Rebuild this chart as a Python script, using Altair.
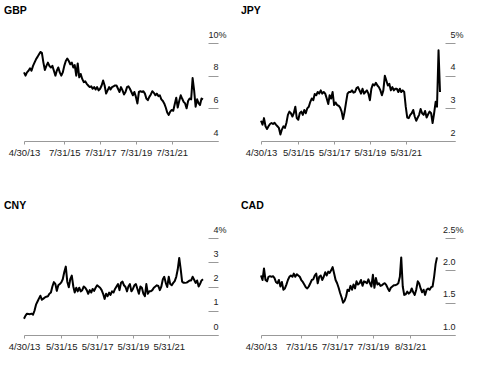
import altair as alt
import pandas as pd

FONT = "Liberation Sans"

gbp_values = [
    8.2, 8.0, 8.2, 8.3, 8.45, 8.3, 8.6, 8.8, 9.0, 9.15, 9.3, 9.45, 9.4, 8.8, 8.35, 8.6,
    8.8, 8.6, 8.5, 8.6, 8.3, 8.0, 8.3, 8.5, 8.2, 8.0, 8.2, 8.6, 8.9, 9.05, 8.9, 8.7,
    8.8, 8.5, 8.65, 8.0, 8.75, 7.9, 8.1, 7.8, 7.6, 7.65, 7.5, 7.4, 7.3, 7.35, 7.2, 7.3,
    7.15, 7.3, 7.1, 7.2, 7.4, 7.7, 7.4, 6.9, 7.1, 7.3, 7.15, 7.3, 7.35, 7.4, 7.4, 7.2,
    7.0, 7.3, 7.1, 6.85, 7.0, 7.3, 7.35, 7.2, 7.0, 6.8, 7.0, 6.7, 6.3, 7.0, 7.05, 7.0,
    7.05, 6.9, 6.6, 6.5, 6.7, 6.85, 7.05, 6.95, 6.8, 6.9, 6.75, 6.8, 6.55, 6.45, 6.3, 6.05,
    5.75, 5.6, 5.8, 5.9, 5.85, 6.25, 6.65, 6.05, 6.45, 6.8, 6.6, 6.4, 6.3, 6.0, 6.45, 6.6,
    6.55, 7.85, 7.1, 6.1, 6.55, 6.3, 6.2, 6.6, 6.55,
]

jpy_values = [
    2.62, 2.5, 2.7, 2.45, 2.37, 2.45, 2.52, 2.55, 2.52, 2.56, 2.5, 2.45, 2.4, 2.2, 2.35, 2.45,
    2.4, 2.55, 2.8, 2.9, 2.85, 2.75, 2.85, 3.05, 2.7, 2.65, 2.85, 2.9, 2.8, 2.95, 2.85, 3.0,
    3.05, 3.2, 3.3, 3.25, 3.44, 3.4, 3.5, 3.45, 3.55, 3.45, 3.5, 3.45, 3.3, 3.13, 3.4, 3.3,
    3.5, 3.1, 3.18, 3.1, 3.08, 3.02, 2.9, 2.67, 2.9, 3.2, 3.45, 3.5, 3.5, 3.55, 3.48, 3.5,
    3.62, 3.65, 3.55, 3.45, 3.6, 3.45, 3.5, 3.55, 3.45, 3.25, 3.6, 3.74, 3.7, 3.78, 3.7, 3.65,
    3.55, 3.4, 3.55, 4.0, 3.85, 3.7, 3.75, 3.55, 3.65, 3.55, 3.6, 3.6, 3.5, 3.6, 3.5, 3.55,
    3.5, 3.05, 2.72, 2.7, 2.8, 2.85, 2.95, 2.75, 2.62, 2.72, 2.8, 2.98, 2.85, 2.8, 2.92, 2.72,
    2.82, 2.9, 2.85, 2.55, 2.85, 3.2, 3.05, 4.78, 3.5,
]

cny_values = [
    0.67, 0.8, 0.88, 0.87, 0.86, 0.88, 0.84, 1.0, 1.25, 1.38, 1.5, 1.62, 1.45, 1.5, 1.55, 1.58,
    1.6, 1.7, 1.75, 2.0, 2.18, 2.1, 1.82, 2.05, 2.1, 2.17, 2.3, 2.6, 2.82, 2.2, 1.97, 2.3,
    2.45, 2.0, 1.75, 1.95, 1.8, 1.95, 1.8, 1.85, 2.0, 1.95, 1.85, 1.7, 1.85, 1.75, 1.9, 1.82,
    1.95, 2.05, 2.0, 1.95, 1.85, 1.7, 1.49, 1.7, 1.6, 1.75, 1.65, 1.8, 1.75, 1.9, 2.0, 2.1,
    1.85, 2.15, 2.2, 2.05, 1.98, 1.8, 2.0, 2.1, 1.8, 1.9, 2.05, 2.1, 1.9, 1.7, 2.0, 1.95,
    1.7, 1.6, 2.1, 1.7, 1.8, 1.8, 1.85, 1.95, 2.0, 2.05, 2.02, 1.85, 2.0, 2.3, 2.4, 2.15,
    1.98, 2.4, 2.1, 2.05, 2.15, 2.22, 2.4, 2.7, 3.18, 2.7, 2.2, 2.15, 2.15, 2.16, 2.2, 2.25,
    2.25, 2.4, 2.28, 2.15, 2.25, 2.0, 2.1, 2.25, 2.3,
]

cad_values = [
    1.92, 1.85, 2.03, 1.85, 1.83, 1.9, 1.91, 1.9, 1.91, 1.88, 1.82, 1.8, 1.85, 1.75, 1.82, 1.7,
    1.72, 1.78, 1.85, 1.9, 1.92, 1.9, 1.95, 1.9, 1.94, 1.92, 1.9, 1.85, 1.82, 1.78, 1.74, 1.72,
    1.75, 1.8, 1.85, 1.86, 1.92, 1.95, 1.8, 1.9, 1.92, 1.85, 1.9, 1.97, 1.92, 1.98, 1.96, 2.0,
    2.05, 1.95, 1.85, 1.8, 1.73, 1.65, 1.58, 1.5, 1.53, 1.6, 1.7, 1.68, 1.76, 1.7, 1.78, 1.72,
    1.83, 1.78, 1.8, 1.85, 1.76, 1.83, 1.82, 1.8, 1.86, 1.8, 1.75, 1.93, 1.73, 1.88, 1.78, 1.8,
    1.76, 1.77, 1.79, 1.8, 1.77, 1.72, 1.68, 1.73, 1.75, 1.77, 1.77, 1.78, 1.8, 1.9, 2.2, 1.75,
    1.62, 1.63, 1.67, 1.64, 1.66, 1.72, 1.66, 1.62, 1.7, 1.83, 1.8, 1.72, 1.66, 1.7, 1.62, 1.7,
    1.72, 1.7, 1.74, 1.75, 1.9, 2.1, 2.2,
]

gbp_xticks = ["2013-04-30", "2015-07-31", "2017-07-31", "2019-07-31", "2021-07-31"]
jpy_xticks = ["2013-04-30", "2015-05-31", "2017-05-31", "2019-05-31", "2021-05-31"]
cny_xticks = ["2013-04-30", "2015-05-31", "2017-05-31", "2019-05-31", "2021-05-31"]
cad_xticks = ["2013-04-30", "2015-07-31", "2017-07-31", "2019-07-31", "2021-08-31"]

x_start = "2013-04-30"
x_end = "2024-03-01"


def dt(s):
    y, m, d = (int(p) for p in s.split("-"))
    return alt.DateTime(year=y, month=m, date=d)


def panel(name, values, lo, hi, yticks, xticks, yfmt, h):
    dates = pd.date_range(x_start, periods=len(values), freq=pd.offsets.MonthEnd())
    df = pd.DataFrame({"date": dates, "value": values})
    xaxis = alt.Axis(
        values=[dt(s) for s in xticks], format="%-m/%-d/%y", grid=False, title=None,
        domainColor="#999", domainWidth=1, tickColor="#999", tickSize=3,
        labelPadding=3, labelFontSize=9.5, labelFont=FONT, labelColor="#222",
        labelFlush=False, labelOverlap=False,
    )
    yaxis = alt.Axis(
        orient="right", values=yticks, format=yfmt, domain=False, grid=False, title=None,
        offset=-10, tickSize=10, tickColor="#999", tickWidth=1,
        labelAlign="right", labelBaseline="alphabetic", labelOffset=-6,
        labelPadding={"condition": {"test": f"datum.value == {hi}", "value": 8}, "value": 0},
        labelExpr=f"datum.value == {hi} ? datum.label + '%' : datum.label",
        labelFontSize=9, labelFont=FONT, labelColor="#222",
        labelFlush=False, labelOverlap=False,
    )
    return (
        alt.Chart(df)
        .mark_line(color="black", strokeWidth=2, strokeJoin="round")
        .encode(
            x=alt.X("date:T", scale=alt.Scale(domain=[dt(x_start), dt(x_end)]), axis=xaxis),
            y=alt.Y("value:Q", scale=alt.Scale(domain=[lo, hi], nice=False, zero=False), axis=yaxis),
        )
        .properties(
            width=194, height=h,
            title=alt.TitleParams(
                name, anchor="start", frame="group", dx=-20, fontSize=10.5,
                fontWeight="bold", font=FONT, color="black", offset=14,
            ),
        )
    )


gbp = panel("GBP", gbp_values, 4, 10, [4, 6, 8, 10], gbp_xticks, "d", 98)
jpy = panel("JPY", jpy_values, 2, 5, [2, 3, 4, 5], jpy_xticks, "d", 98)
cny = panel("CNY", cny_values, 0, 4, [0, 1, 2, 3, 4], cny_xticks, "d", 97)
cad = panel("CAD", cad_values, 1, 2.5, [1.0, 1.5, 2.0, 2.5], cad_xticks, ".1f", 97)

chart = (
    alt.concat(gbp, jpy, cny, cad, columns=2,
               spacing=alt.RowColnumber(row=97, column=43), bounds="flush")
    .properties(padding={"left": 4, "top": 5, "right": 5, "bottom": 5}, background="white")
    .configure_view(stroke=None)
)

chart.save("out.html", embed_options={"renderer": "svg", "actions": False})
